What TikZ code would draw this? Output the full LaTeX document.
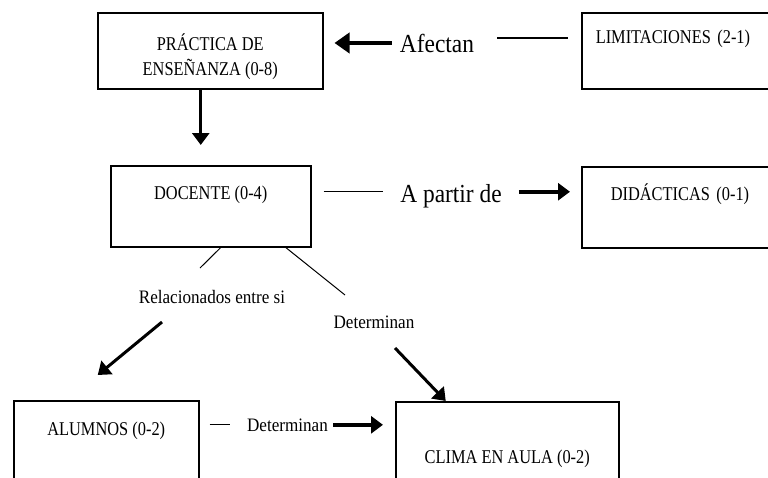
\documentclass[tikz,border=0pt]{standalone}
\usepackage{fontspec}
\usetikzlibrary{arrows.meta}
\newfontfamily\cajafont[FakeStretch=0.84]{Liberation Serif}
\newfontfamily\etiqfont[FakeStretch=0.9]{Liberation Serif}
\tikzset{
  caja/.style={draw, line width=1.5pt, anchor=north west, inner xsep=0pt, inner ysep=0pt,
    align=center, font=\cajafont\fontsize{19.5}{25}\selectfont},
  etiq/.style={anchor=base, inner sep=0pt, font=\etiqfont\fontsize{19}{22}\selectfont},
  grande/.style={anchor=base, inner sep=0pt, font=\etiqfont\fontsize{26}{30}\selectfont},
  linea/.style={line width=1.3pt},
  flecha/.style={line width=3.5pt, -{Triangle[length=12pt,width=17pt]}},
}
\begin{document}
\begin{tikzpicture}[x=1pt,y=-1pt]
  \useasboundingbox (0,0) rectangle (768,477);
  \clip (0,0) rectangle (768,477);
  % cajas
  \node[caja, minimum width=225pt, text height=63pt, text depth=13pt] (practica) at (97,12) {PRÁCTICA DE\\ENSEÑANZA (0-8)};
  \node[caja, inner xsep=14pt, text width=181pt, align=left, text height=31pt, text depth=45pt] (limitaciones) at (581,12) {LIMITACIONES (2-1)};
  \node[caja, minimum width=200pt, text height=34pt, text depth=47pt] (docente) at (110,165) {DOCENTE (0-4)};
  \node[caja, inner xsep=29pt, text width=151pt, align=left, text height=34pt, text depth=47pt] (didacticas) at (581,166) {DIDÁCTICAS (0-1)};
  \node[caja, minimum width=185pt, text height=35pt, text depth=55pt] (alumnos) at (13,400) {ALUMNOS (0-2)};
  \node[caja, minimum width=223pt, text height=62pt, text depth=27pt] (clima) at (395,401) {CLIMA EN AULA (0-2)};
  % etiquetas
  \node[grande] (afectan) at (437,52) {Afectan};
  \node[grande] (apartir) at (451,202) {A partir de};
  \node[etiq] (relacion) at (212,303) {Relacionados entre si};
  \node[etiq] (determ1) at (374,328) {Determinan};
  \node[etiq] (determ2) at (287.5,431) {Determinan};
  % fila de arriba
  \draw[flecha, line width=4.5pt, -{Triangle[length=15pt,width=20pt]}, shorten <=8pt, shorten >=11pt]
    (afectan.west) -- (afectan.west -| practica.east);
  \coordinate (a1) at ([yshift=5pt]afectan.east);
  \draw[linea, shorten <=23pt, shorten >=13pt] (a1) -- (a1 -| limitaciones.west);
  \coordinate (p1) at ([xshift=-9.5pt]practica.south);
  \draw[flecha, line width=3pt, shorten >=20pt] (p1) -- (p1 |- docente.north);
  % fila del medio
  \coordinate (a2) at ([yshift=4pt]apartir.west);
  \coordinate (a3) at ([yshift=4pt]apartir.east);
  \draw[linea, shorten <=12pt, shorten >=17pt] (a2 -| docente.east) -- (a2);
  \draw[flecha, shorten <=17pt, shorten >=11pt] (a3) -- (a3 -| didacticas.west);
  \draw[line width=1pt] ([xshift=10pt]docente.south) -- ([xshift=-12pt,yshift=35pt]relacion.base);
  \draw[line width=1pt] ([xshift=75pt]docente.south) -- ([xshift=-29pt,yshift=33pt]determ1.base);
  \draw[flecha, line width=3pt] ([xshift=-50pt,yshift=-19pt]relacion.base) -- ([xshift=-8.5pt,yshift=25pt]alumnos.north);
  \draw[flecha, line width=3pt] ([xshift=21pt,yshift=-20pt]determ1.base) -- ([xshift=-61.5pt]clima.north);
  % fila de abajo
  \draw[linea, shorten <=10pt, shorten >=17pt] (determ2.west -| alumnos.east) -- (determ2.west);
  \draw[flecha, shorten <=5pt, shorten >=12pt] (determ2.east) -- (determ2.east -| clima.west);
\end{tikzpicture}
\end{document}
